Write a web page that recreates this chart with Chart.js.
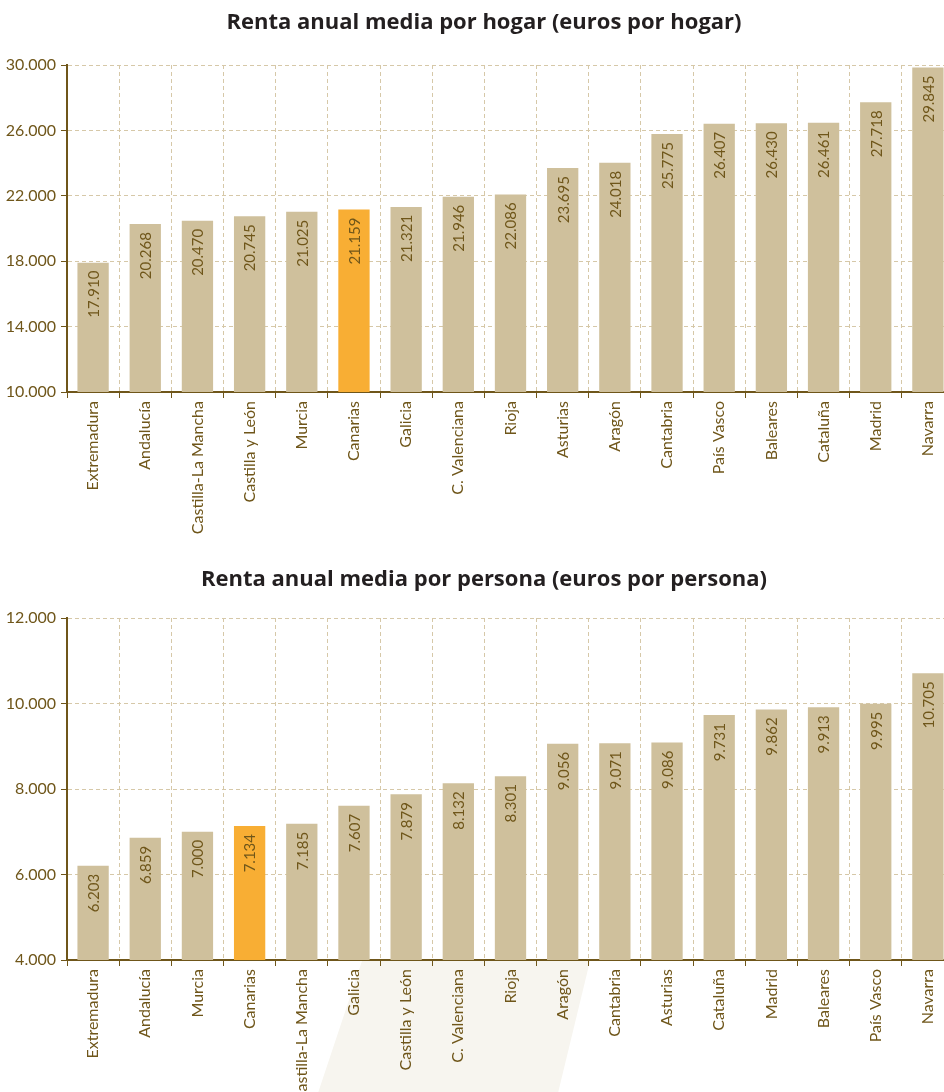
<!DOCTYPE html>
<html>
<head>
<meta charset="utf-8">
<script src="https://cdn.jsdelivr.net/npm/chart.js@4"></script>
<style>
    html, body { margin: 0; padding: 0; background: #fff; overflow: hidden; width: 944px; height: 1092px; }
    .box { position: absolute; left: 0; width: 954px; }
    #box1 { top: 0; height: 542px; }
    #box2 { top: 557px; height: 553px; }
    .title {
        position: absolute; left: 0; width: 968px; text-align: center;
        font: bold 22px "Open Sans", sans-serif; color: #231f20; line-height: 26px;
    }
    #t1 { top: 7px; }
    #t2 { top: 564px; }
</style>
</head>
<body>
<div class="box" id="box1"><canvas id="chart1"></canvas></div>
<div class="box" id="box2"><canvas id="chart2"></canvas></div>
<div class="title" id="t1">Renta anual media por hogar (euros por hogar)</div>
<div class="title" id="t2">Renta anual media por persona (euros por persona)</div>
<script>
const hogarLabels = ['Extremadura', 'Andalucía', 'Castilla-La Mancha', 'Castilla y León', 'Murcia', 'Canarias', 'Galicia', 'C. Valenciana', 'Rioja', 'Asturias', 'Aragón', 'Cantabria', 'País Vasco', 'Baleares', 'Cataluña', 'Madrid', 'Navarra']
const hogarValues = [17910, 20268, 20470, 20745, 21025, 21159, 21321, 21946, 22086, 23695, 24018, 25775, 26407, 26430, 26461, 27718, 29845]

const personaLabels = ['Extremadura', 'Andalucía', 'Murcia', 'Canarias', 'Castilla-La Mancha', 'Galicia', 'Castilla y León', 'C. Valenciana', 'Rioja', 'Aragón', 'Cantabria', 'Asturias', 'Cataluña', 'Madrid', 'Baleares', 'País Vasco', 'Navarra']
const personaValues = [6203, 6859, 7000, 7134, 7185, 7607, 7879, 8132, 8301, 9056, 9071, 9086, 9731, 9862, 9913, 9995, 10705]

const highlight = 'Canarias'
const barColor = '#cfc09c'
const highColor = '#f8ae34'
const brown = '#6f561a'
const gridColor = '#d6c8a8'
const fontFamily = 'Lato, "Open Sans", sans-serif'

// 12345 -> "12.345"
function fmt(v) {
    return String(Math.round(v)).replace(/\B(?=(\d{3})+(?!\d))/g, '.')
}

const valueLabels = {
    id: 'valueLabels',
    afterDatasetsDraw(chart) {
        const ctx = chart.ctx
        const meta = chart.getDatasetMeta(0)
        const data = chart.data.datasets[0].data
        ctx.save()
        ctx.fillStyle = brown
        ctx.font = '15px ' + fontFamily
        ctx.textAlign = 'right'
        ctx.textBaseline = 'middle'
        meta.data.forEach((bar, i) => {
            ctx.save()
            ctx.translate(bar.x, bar.y + 8)
            ctx.rotate(-Math.PI / 2)
            ctx.fillText(fmt(data[i]), 0, 1)
            ctx.restore()
        })
        ctx.restore()
    }
}

// faint decorative band behind the lower labels of the second chart
const backShape = {
    id: 'backShape',
    beforeDraw(chart, args, opts) {
        if (!opts.points) return
        const ctx = chart.ctx
        ctx.save()
        ctx.fillStyle = '#f7f5ef'
        ctx.beginPath()
        opts.points.forEach((p, i) => i ? ctx.lineTo(p[0], p[1]) : ctx.moveTo(p[0], p[1]))
        ctx.closePath()
        ctx.fill()
        ctx.restore()
    }
}

function makeChart(id, labels, values, min, max, step, top, shape) {
    return new Chart(document.getElementById(id), {
        type: 'bar',
        data: {
            labels: labels,
            datasets: [{
                data: values,
                backgroundColor: labels.map(l => l === highlight ? highColor : barColor),
                barPercentage: 0.6,
                categoryPercentage: 1
            }]
        },
        options: {
            responsive: true,
            maintainAspectRatio: false,
            animation: false,
            layout: { padding: { left: 0, right: 0, top: top, bottom: 0 } },
            plugins: {
                legend: { display: false },
                tooltip: { enabled: false },
                backShape: shape
            },
            scales: {
                x: {
                    afterFit(scale) { scale.height = 150 },
                    border: { color: brown, width: 2, dash: [4, 3] },
                    grid: {
                        offset: true,
                        color: gridColor,
                        tickColor: brown,
                        tickBorderDash: [],
                        tickLength: 6,
                        lineWidth: 1
                    },
                    ticks: {
                        color: brown,
                        font: { family: fontFamily, size: 16 },
                        minRotation: 90,
                        maxRotation: 90,
                        autoSkip: false,
                        padding: 3
                    }
                },
                y: {
                    min: min,
                    max: max,
                    afterFit(scale) { scale.width = 67 },
                    border: { color: brown, width: 2, dash: [4, 3] },
                    grid: {
                        color: gridColor,
                        tickColor: brown,
                        tickBorderDash: [],
                        tickLength: 6,
                        lineWidth: 1
                    },
                    ticks: {
                        stepSize: step,
                        color: brown,
                        font: { family: fontFamily, size: 16 },
                        padding: 5,
                        callback: v => fmt(v)
                    }
                }
            }
        },
        plugins: [backShape, valueLabels]
    })
}

makeChart('chart1', hogarLabels, hogarValues, 10000, 30000, 4000, 65, {})
makeChart('chart2', personaLabels, personaValues, 4000, 12000, 2000, 61,
    { points: [[362, 404], [590, 404], [558, 536], [318, 536]] })
</script>
</body>
</html>
